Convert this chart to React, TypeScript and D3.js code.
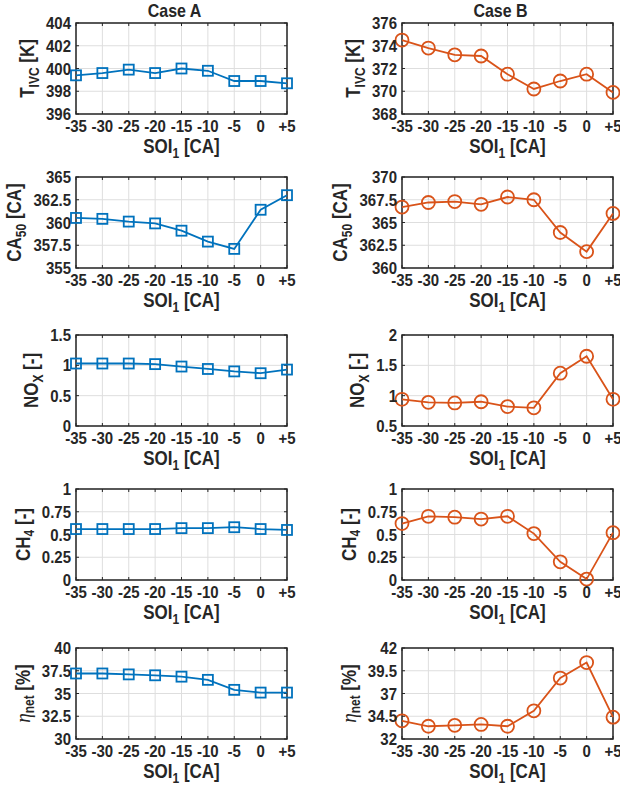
import React from 'react'
import * as d3 from 'd3'

// SOI_1 sweep (x axis)
const soi = [-35, -30, -25, -20, -15, -10, -5, 0, 5]
const soiLabels = ['-35', '-30', '-25', '-20', '-15', '-10', '-5', '0', '+5']

// T_IVC [K]
const tivcA = [399.4, 399.6, 399.9, 399.6, 400.0, 399.8, 398.9, 398.9, 398.7]
const tivcB = [374.5, 373.8, 373.2, 373.1, 371.5, 370.2, 370.9, 371.5, 369.9]
const tivcTicksA = [396, 398, 400, 402, 404]
const tivcTicksB = [368, 370, 372, 374, 376]

// CA50 [CA]
const ca50A = [360.5, 360.4, 360.1, 359.9, 359.1, 357.9, 357.1, 361.4, 363.0]
const ca50B = [366.7, 367.2, 367.3, 367.0, 367.8, 367.5, 363.9, 361.8, 366.0]
const ca50TicksA = [355, 357.5, 360, 362.5, 365]
const ca50TicksB = [360, 362.5, 365, 367.5, 370]

// NOx [-]
const noxA = [1.03, 1.03, 1.03, 1.02, 0.98, 0.94, 0.9, 0.87, 0.93]
const noxB = [0.94, 0.89, 0.88, 0.9, 0.82, 0.8, 1.37, 1.65, 0.94]
const noxTicksA = [0, 0.5, 1, 1.5]
const noxTicksB = [0.5, 1, 1.5, 2]

// CH4 [-]
const ch4A = [0.56, 0.56, 0.56, 0.56, 0.57, 0.57, 0.58, 0.56, 0.55]
const ch4B = [0.62, 0.7, 0.69, 0.67, 0.7, 0.51, 0.2, 0.01, 0.52]
const ch4Ticks = [0, 0.25, 0.5, 0.75, 1]

// eta_net [%]
const etaA = [37.2, 37.2, 37.1, 37.0, 36.85, 36.5, 35.4, 35.1, 35.1]
const etaB = [34.0, 33.4, 33.5, 33.6, 33.4, 35.1, 38.7, 40.4, 34.4]
const etaTicksA = [30, 32.5, 35, 37.5, 40]
const etaTicksB = [32, 34.5, 37, 39.5, 42]

const BLUE = '#0072BD'
const ORANGE = '#D95319'
const FONT = '"Liberation Sans", Arial, sans-serif'
const TICK_FS = 15
const LABEL_FS = 17
const STRETCH = 1.15 // glyphs in the figure are a bit taller than wide

const rows = [
  { a: tivcA, b: tivcB, ta: tivcTicksA, tb: tivcTicksB, label: ['T', 'IVC', ' [K]'] },
  { a: ca50A, b: ca50B, ta: ca50TicksA, tb: ca50TicksB, label: ['CA', '50', ' [CA]'] },
  { a: noxA, b: noxB, ta: noxTicksA, tb: noxTicksB, label: ['NO', 'X', ' [-]'] },
  { a: ch4A, b: ch4B, ta: ch4Ticks, tb: ch4Ticks, label: ['CH', '4', ' [-]'] },
  { a: etaA, b: etaB, ta: etaTicksA, tb: etaTicksB, label: ['η', 'net', ' [%]'] },
]

const rowTops = [23, 177, 335, 489, 648]
const plotH = 91
const colLeft = [76, 402]
const plotW = 211

// text drawn slightly stretched vertically
const T = ({ x, y, rotate = 0, children, ...rest }) => (
  <text transform={`translate(${x},${y}) rotate(${rotate}) scale(1,${STRETCH})`} {...rest}>
    {children}
  </text>
)

const Panel = ({ left, top, values, ticks, color, marker, label }) => {
  const x = d3.scaleLinear().domain([-35, 5]).range([left, left + plotW])
  const y = d3.scaleLinear().domain(d3.extent(ticks)).range([top + plotH, top])
  const line = d3
    .line()
    .x((d, i) => x(soi[i]))
    .y((d) => y(d))
  const bottom = top + plotH
  const longest = d3.max(ticks, (t) => {
    const s = String(t)
    return (s.length - (s.includes('.') ? 1 : 0)) * 0.556 * TICK_FS + (s.includes('.') ? 0.278 * TICK_FS : 0)
  })
  const ylx = left - 5 - longest - 12
  const yc = top + plotH / 2
  const isEta = label[0] === 'η'

  return (
    <g>
      {soi.map((s) => (
        <line key={'gx' + s} x1={x(s)} x2={x(s)} y1={top} y2={bottom} stroke="#dedede" strokeWidth={1} />
      ))}
      {ticks.map((t) => (
        <line key={'gy' + t} x1={left} x2={left + plotW} y1={y(t)} y2={y(t)} stroke="#dedede" strokeWidth={1} />
      ))}
      {soi.map((s) => (
        <g key={'tx' + s}>
          <line x1={x(s)} x2={x(s)} y1={bottom} y2={bottom - 3} stroke="#262626" />
          <line x1={x(s)} x2={x(s)} y1={top} y2={top + 3} stroke="#262626" />
        </g>
      ))}
      {ticks.map((t) => (
        <g key={'ty' + t}>
          <line x1={left} x2={left + 3} y1={y(t)} y2={y(t)} stroke="#262626" />
          <line x1={left + plotW} x2={left + plotW - 3} y1={y(t)} y2={y(t)} stroke="#262626" />
        </g>
      ))}
      <rect x={left} y={top} width={plotW} height={plotH} fill="none" stroke="#262626" strokeWidth={1.5} />
      <path d={line(values)} fill="none" stroke={color} strokeWidth={1.8} />
      {values.map((v, i) =>
        marker === 'square' ? (
          <rect key={'m' + i} x={x(soi[i]) - 5} y={y(v) - 5} width={10} height={10} fill="none" stroke={color} strokeWidth={1.8} />
        ) : (
          <circle key={'m' + i} cx={x(soi[i])} cy={y(v)} r={6.5} fill="none" stroke={color} strokeWidth={1.8} />
        )
      )}
      {ticks.map((t) => (
        <T key={'ly' + t} x={left - 5} y={y(t) + 6} textAnchor="end" fontSize={TICK_FS}>
          {String(t)}
        </T>
      ))}
      {soi.map((s, i) => (
        <T key={'lx' + s} x={x(s)} y={bottom + 18} textAnchor="middle" fontSize={TICK_FS}>
          {soiLabels[i]}
        </T>
      ))}
      <T x={left + plotW / 2} y={bottom + 39} textAnchor="middle" fontSize={LABEL_FS}>
        SOI
        <tspan dy={4} fontSize={12}>1</tspan>
        <tspan dy={-4}> [CA]</tspan>
      </T>
      <T x={ylx} y={yc} rotate={-90} textAnchor="middle" fontSize={LABEL_FS}>
        {isEta ? (
          <tspan fontFamily='"Liberation Serif", serif' fontWeight="normal" fontStyle="italic" fontSize={19}>
            η
          </tspan>
        ) : (
          label[0]
        )}
        <tspan dy={4} fontSize={12}>{label[1]}</tspan>
        <tspan dy={-4}>{label[2]}</tspan>
      </T>
    </g>
  )
}

const App = () => {
  return (
    <svg
      width={620}
      height={791}
      style={{ position: 'absolute', left: 0, top: 0, background: '#fff' }}
      fontFamily={FONT}
      fontWeight="bold"
      fill="#262626"
    >
      <T x={colLeft[0] + plotW / 2 - 7} y={17} textAnchor="middle" fontSize={16}>
        Case A
      </T>
      <T x={colLeft[1] + plotW / 2 - 7} y={17} textAnchor="middle" fontSize={16}>
        Case B
      </T>
      {rows.map((r, k) => (
        <g key={k}>
          <Panel left={colLeft[0]} top={rowTops[k]} values={r.a} ticks={r.ta} color={BLUE} marker="square" label={r.label} />
          <Panel left={colLeft[1]} top={rowTops[k]} values={r.b} ticks={r.tb} color={ORANGE} marker="circle" label={r.label} />
        </g>
      ))}
    </svg>
  )
}

export default App
